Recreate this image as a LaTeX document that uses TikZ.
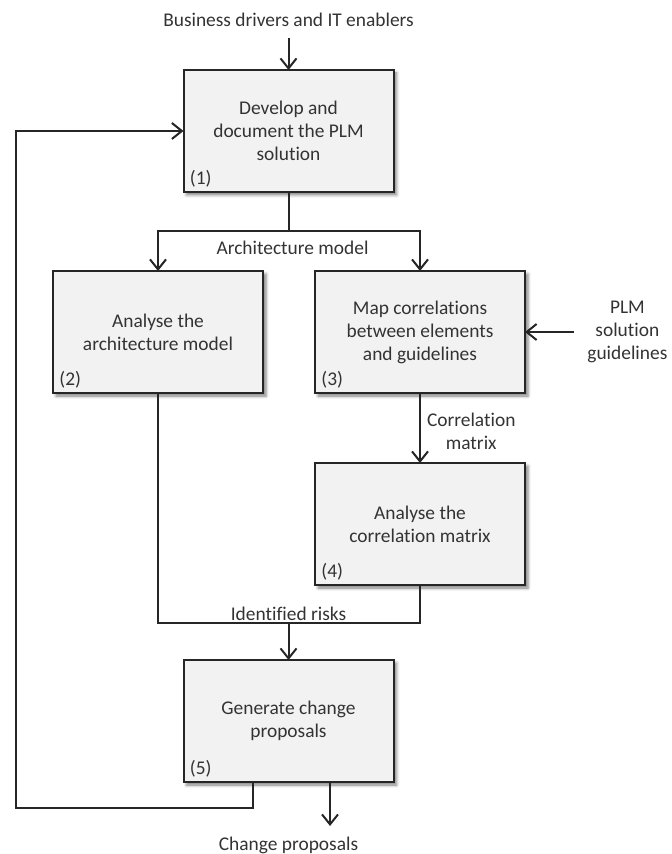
\documentclass[tikz,border=0pt]{standalone}
\usepackage{fontspec}
\setmainfont{Carlito}[Ligatures=NoCommon]
\usetikzlibrary{arrows.meta, positioning, calc, shadows.blur}
\definecolor{boxfill}{RGB}{242,242,242}
\definecolor{linecol}{RGB}{38,38,38}
\definecolor{textcol}{RGB}{51,51,51}

\begin{document}
\begin{tikzpicture}[
  x=0.5pt, y=-0.5pt,
  font=\fontsize{9.7}{11.5}\selectfont, text=textcol,
  box/.style={rectangle, draw=linecol, line width=1pt, fill=boxfill, outer sep=0pt,
              minimum width=105pt, minimum height=61pt, align=center,
              blur shadow={shadow xshift=1.5pt, shadow yshift=-1.5pt,
                           shadow blur radius=1.5pt, shadow opacity=50}},
  lbl/.style={align=center, inner sep=3pt},
  numlbl/.style={anchor=south west, inner sep=2pt, xshift=1pt},
  arr/.style={-{Straight Barb[length=5pt, width=8pt]}, line width=1pt, draw=linecol},
  wire/.style={line width=1pt, draw=linecol}
]
\useasboundingbox (0,0) rectangle (672,854);

\node[box] (dev) at (288.5,131) {Develop and\\ document the PLM\\ solution};
\node[box, below=39.5pt of dev, xshift=-65.25pt] (analyse) {Analyse the\\ architecture model};
\node[box, right=26pt of analyse] (map) {Map correlations\\ between elements\\ and guidelines};
\node[box, below=35pt of map] (corr) {Analyse the\\ correlation matrix};
\coordinate (join) at ($(dev |- corr.south)+(0,-19pt)$);
\node[box, below=18.5pt of join] (gen) {Generate change\\ proposals};

% step numbers
\foreach \b/\n in {dev/1, analyse/2, map/3, corr/4, gen/5}
  \node[numlbl] (num\n) at (\b.south west) {(\n)};

% inputs and outputs
\node[lbl, above=18.5pt of dev] (drivers) {Business drivers and IT enablers};
\node[lbl, right=24.5pt of map, inner sep=6.5pt] (guide) {PLM\\ solution\\ guidelines};
\node[lbl, below=24.5pt of gen] (changes) {Change proposals};

\draw[arr, shorten <=2.5pt] (drivers) -- (dev);
\draw[arr] (guide) -- (map);

% architecture model
\coordinate (split) at ($(dev.south)+(0,-19.5pt)$);
\draw[wire] (dev) -- (split);
\draw[arr] (split) -| (analyse);
\draw[arr] (split) -| (map);
\node[lbl, below=2pt of split, xshift=2pt] (archlbl) {Architecture model};

\draw[arr] (map) -- node[lbl, right, yshift=-1.5pt] (corrlbl) {Correlation\\ matrix} (corr);

% identified risks
\draw[wire] (analyse) -- (analyse |- join) -- (corr |- join) -- (corr);
\node[lbl, above=0pt of join, inner sep=1pt] (risklbl) {Identified risks};
\draw[arr] (join) -- (gen);

% feedback loop and output
\coordinate (loop) at (16,808);
\draw[arr] ([xshift=-18pt]gen.south) |- (loop) |- (dev);
\draw[arr, shorten >=2.5pt] ([xshift=20.75pt]gen.south) -- ([xshift=20.75pt]gen.south |- changes.north);

\end{tikzpicture}
\end{document}
